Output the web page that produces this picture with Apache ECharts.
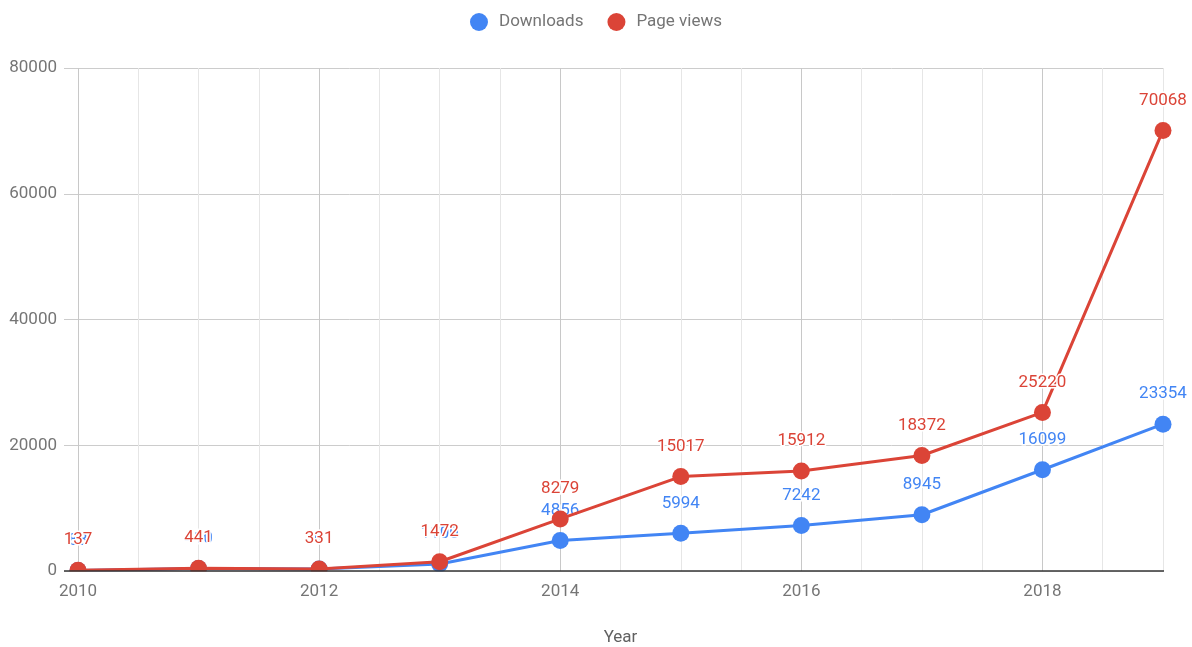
<!DOCTYPE html>
<html>
<head>
<meta charset="utf-8">
<script src="https://cdn.jsdelivr.net/npm/echarts@6/dist/echarts.min.js"></script>
<style>html,body{margin:0;padding:0;background:#fff}#c{width:1192px;height:647px}</style>
</head>
<body>
<div id="c"></div>
<script>
const years = [2010, 2011, 2012, 2013, 2014, 2015, 2016, 2017, 2018, 2019];
const downloads = [88, 410, 301, 1100, 4856, 5994, 7242, 8945, 16099, 23354];
const pageViews = [137, 441, 331, 1472, 8279, 15017, 15912, 18372, 25220, 70068];
const yTicks = [0, 20000, 40000, 60000, 80000];
const xLabelYears = [2010, 2012, 2014, 2016, 2018];

const chart = echarts.init(document.getElementById('c'));
const mk = (name, vals, color) => ({
  name, type: 'line',
  data: years.map((y, i) => [y, vals[i]]),
  symbol: 'circle', symbolSize: 17,
  itemStyle: { color },
  lineStyle: { color, width: 3 },
  label: {
    show: true, position: 'top', distance: 13, color, fontSize: 17, fontFamily: 'Roboto',
    textBorderColor: '#ffffff', textBorderWidth: 3
  },
  emphasis: { disabled: true },
  z: name === 'Page views' ? 3 : 2
});
chart.setOption({
  animation: false,
  textStyle: { fontFamily: 'Roboto' },
  legend: {
    top: 8, left: 'center', icon: 'circle', itemWidth: 30, itemHeight: 18, itemGap: 24,
    textStyle: { color: '#757575', fontSize: 17, fontFamily: 'Roboto' },
    data: ['Downloads', 'Page views']
  },
  grid: { left: 78, right: 29, top: 68, bottom: 76, outerBoundsMode: 'none', containLabel: false },
  xAxis: {
    type: 'value', min: 2010, max: 2019, interval: 0.5,
    name: 'Year', nameLocation: 'middle', nameGap: 58,
    nameTextStyle: { color: '#616161', fontSize: 17, fontFamily: 'Roboto' },
    axisLine: { show: false },
    axisTick: { show: false },
    axisLabel: {
      color: '#757575', fontSize: 17, margin: 12, fontFamily: 'Roboto',
      formatter: v => xLabelYears.includes(v) ? String(v) : ''
    },
    splitLine: { show: true, lineStyle: { color: ['#c8c8c8', '#e6e6e6', '#e6e6e6', '#e6e6e6'], width: 1 } }
  },
  yAxis: {
    type: 'value', min: yTicks[0], max: yTicks[yTicks.length - 1], interval: 20000,
    axisLine: { show: false },
    axisTick: { show: true, length: 14, lineStyle: { color: '#cccccc' } },
    axisLabel: { color: '#757575', fontSize: 17, margin: 21, fontFamily: 'Roboto', formatter: v => String(v) },
    splitLine: { show: true, lineStyle: { color: '#cccccc' } }
  },
  series: [
    mk('Downloads', downloads, '#4285F4'),
    mk('Page views', pageViews, '#DB4437')
  ]
});
// clip markers below the baseline and draw the dark zero baseline
const y0 = chart.convertToPixel({ yAxisIndex: 0 }, 0);
const xL = chart.convertToPixel({ xAxisIndex: 0 }, years[0]);
const xR = chart.convertToPixel({ xAxisIndex: 0 }, years[years.length - 1]);
chart.setOption({
  graphic: [
    { type: 'rect', z: 100, silent: true, shape: { x: xL - 20, y: y0 + 0.5, width: xR - xL + 40, height: 10 }, style: { fill: '#ffffff' } },
    { type: 'line', z: 101, silent: true, shape: { x1: xL - 14, y1: y0, x2: xR + 1, y2: y0 }, style: { stroke: '#333333', lineWidth: 1.5 } }
  ]
});
</script>
</body>
</html>
